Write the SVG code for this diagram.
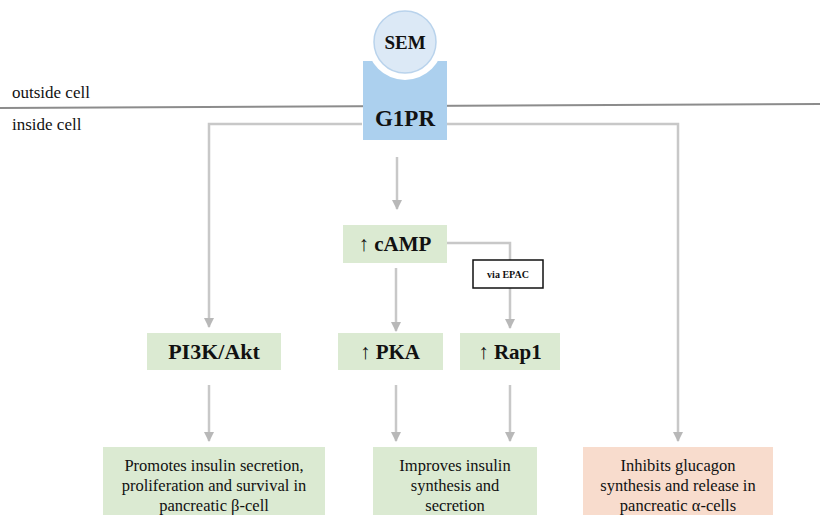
<svg xmlns="http://www.w3.org/2000/svg" width="820" height="516" viewBox="0 0 820 516">
<defs>
<marker id="ah" viewBox="0 0 10 10" refX="9" refY="5" markerWidth="10" markerHeight="10" markerUnits="userSpaceOnUse" orient="auto">
<path d="M0,0 L10,5 L0,10 Z" fill="#b8b8b8"/>
</marker>
<style>
.t{font-family:"Liberation Serif","Times New Roman",serif;fill:#111;text-anchor:middle}
.b{font-weight:bold}
.g{fill:#dbead2}
.p{fill:#f8dccd}
.c{fill:none;stroke:#c8c8c8;stroke-width:2.5}
.a{marker-end:url(#ah)}
</style>
</defs>
<rect width="820" height="516" fill="#fff"/>
<g id="membrane">
<line x1="0" y1="108" x2="820" y2="104" stroke="#8c8c8c" stroke-width="2"/>
<text class="t" x="12" y="98" font-size="17" text-anchor="start" style="text-anchor:start">outside cell</text>
<text class="t" x="12" y="130" font-size="17" style="text-anchor:start">inside cell</text>
</g>
<g id="connectors">
<polyline class="c a" points="362,124 209,124 209,327"/>
<polyline class="c a" points="447,124 678,124 678,441"/>
<line class="c a" x1="397" y1="157" x2="397" y2="209"/>
<line class="c a" x1="396" y1="268" x2="396" y2="331"/>
<polyline class="c a" points="447,243 510,243 510,328"/>
<line class="c a" x1="209" y1="385" x2="209" y2="441"/>
<line class="c a" x1="396" y1="385" x2="396" y2="441"/>
<line class="c a" x1="510" y1="385" x2="510" y2="441"/>
</g>
<g id="G1PR">
<rect x="363" y="61" width="84" height="79" fill="#acd0ee"/>
<circle cx="405" cy="42" r="38" fill="#fff"/>
<text class="t b" x="405" y="126" font-size="23">G1PR</text>
</g>
<g id="SEM">
<circle cx="405" cy="42" r="31" fill="#dce9f6" stroke="#b9d3ec" stroke-width="1.5"/>
<text class="t b" x="405" y="49" font-size="19">SEM</text>
</g>
<g id="cAMP">
<rect class="g" x="343" y="225" width="104" height="38"/>
<text class="t b" x="395" y="251" font-size="21">↑ cAMP</text>
</g>
<g id="EPAC">
<rect x="473" y="260" width="70" height="28" fill="#fff" stroke="#111" stroke-width="1.5"/>
<text class="t b" x="508" y="278" font-size="10">via EPAC</text>
</g>
<g id="PI3K">
<rect class="g" x="147" y="333" width="134" height="37"/>
<text class="t b" x="214" y="359" font-size="22">PI3K/Akt</text>
</g>
<g id="PKA">
<rect class="g" x="338" y="333" width="105" height="37"/>
<text class="t b" x="390" y="359" font-size="21">↑ PKA</text>
</g>
<g id="Rap1">
<rect class="g" x="460" y="333" width="100" height="37"/>
<text class="t b" x="510" y="359" font-size="21">↑ Rap1</text>
</g>
<g id="beta">
<rect class="g" x="103" y="447" width="222" height="68"/>
<text class="t" x="214" y="471" font-size="16.5">Promotes insulin secretion,</text>
<text class="t" x="214" y="491" font-size="16.5">proliferation and survival in</text>
<text class="t" x="214" y="511" font-size="16.5">pancreatic β-cell</text>
</g>
<g id="insulin">
<rect class="g" x="373" y="447" width="164" height="68"/>
<text class="t" x="455" y="471" font-size="16.5">Improves insulin</text>
<text class="t" x="455" y="491" font-size="16.5">synthesis and</text>
<text class="t" x="455" y="511" font-size="16.5">secretion</text>
</g>
<g id="alpha">
<rect class="p" x="583" y="447" width="190" height="68"/>
<text class="t" x="678" y="471" font-size="16.5">Inhibits glucagon</text>
<text class="t" x="678" y="491" font-size="16.5">synthesis and release in</text>
<text class="t" x="678" y="511" font-size="16.5">pancreatic α-cells</text>
</g>
</svg>
